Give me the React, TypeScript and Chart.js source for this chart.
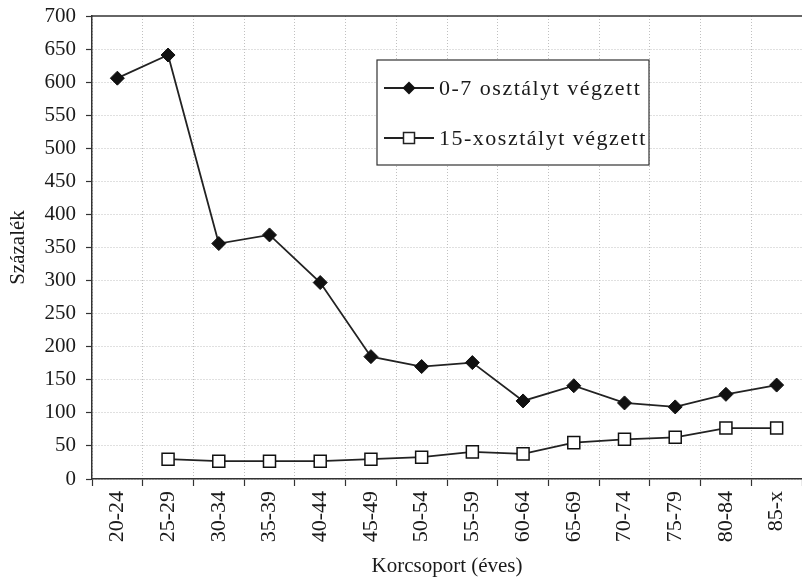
import React, { useEffect, useRef } from 'react';
import { Chart, registerables } from 'chart.js';

Chart.register(...registerables);

const categories = ['20-24', '25-29', '30-34', '35-39', '40-44', '45-49', '50-54', '55-59', '60-64', '65-69', '70-74', '75-79', '80-84', '85-x'];
const series07 = [606, 641, 356, 369, 297, 185, 170, 176, 118, 141, 115, 109, 128, 142];
const series15x = [null, 30, 27, 27, 27, 30, 33, 41, 38, 55, 60, 63, 77, 77];
const seriesLabels = ['0-7 osztályt végzett', '15-xosztályt végzett'];
const yMin = 0;
const yMax = 700;
const yStep = 50;
const xTitle = 'Korcsoport (éves)';
const yTitle = 'Százalék';

const FONT = '"Liberation Serif", "Times New Roman", serif';
const INK = '#1a1a1a';

const legendPlugin = {
  id: 'boxLegend',
  afterDraw(chart: any) {
    const ctx = chart.ctx;
    const area = chart.chartArea;
    ctx.save();
    // top border of the plot
    ctx.strokeStyle = '#333';
    ctx.lineWidth = 1.5;
    ctx.beginPath();
    ctx.moveTo(area.left, area.top);
    ctx.lineTo(area.right, area.top);
    ctx.stroke();

    const bx = 377, by = 60, bw = 272, bh = 105;
    ctx.fillStyle = '#fff';
    ctx.fillRect(bx, by, bw, bh);
    ctx.strokeStyle = '#333';
    ctx.lineWidth = 1.2;
    ctx.strokeRect(bx, by, bw, bh);

    const rows = [by + 28, by + 78];
    chart.data.datasets.forEach((ds: any, i: number) => {
      const cy = rows[i];
      ctx.strokeStyle = '#222';
      ctx.lineWidth = 1.8;
      ctx.beginPath();
      ctx.moveTo(bx + 7, cy);
      ctx.lineTo(bx + 57, cy);
      ctx.stroke();
      const mx = bx + 32;
      if (i === 0) {
        const r = 6.5;
        ctx.fillStyle = '#111';
        ctx.beginPath();
        ctx.moveTo(mx, cy - r);
        ctx.lineTo(mx + r, cy);
        ctx.lineTo(mx, cy + r);
        ctx.lineTo(mx - r, cy);
        ctx.closePath();
        ctx.fill();
      } else {
        const s = 11;
        ctx.fillStyle = '#fff';
        ctx.fillRect(mx - s / 2, cy - s / 2, s, s);
        ctx.lineWidth = 1.5;
        ctx.strokeRect(mx - s / 2, cy - s / 2, s, s);
      }
      ctx.fillStyle = INK;
      ctx.font = `22px ${FONT}`;
      (ctx as any).letterSpacing = '1.5px';
      ctx.textBaseline = 'middle';
      ctx.textAlign = 'left';
      ctx.fillText(ds.label, bx + 62, cy + 1);
      (ctx as any).letterSpacing = '0px';
    });
    ctx.restore();
  },
};

export default function App() {
  const ref = useRef<HTMLCanvasElement>(null);

  useEffect(() => {
    if (!ref.current) return;
    const chart = new Chart(ref.current, {
      type: 'line',
      data: {
        labels: categories,
        datasets: [
          {
            label: seriesLabels[0],
            data: series07,
            borderColor: '#222',
            borderWidth: 1.8,
            backgroundColor: '#111',
            pointStyle: 'rectRot',
            pointRadius: 7,
            pointBackgroundColor: '#111',
            pointBorderColor: '#111',
            pointBorderWidth: 1,
            tension: 0,
          },
          {
            label: seriesLabels[1],
            data: series15x,
            borderColor: '#222',
            borderWidth: 1.8,
            backgroundColor: '#fff',
            pointStyle: 'rect',
            pointRadius: 8.5,
            pointBackgroundColor: '#fff',
            pointBorderColor: '#111',
            pointBorderWidth: 1.5,
            tension: 0,
            spanGaps: false,
          },
        ],
      },
      options: {
        animation: false,
        responsive: false,
        maintainAspectRatio: false,
        layout: { autoPadding: false, padding: { top: 16, right: 0, left: 0, bottom: 0 } },
        plugins: {
          legend: { display: false },
          tooltip: { enabled: false },
        },
        scales: {
          x: {
            offset: true,
            grid: {
              offset: true,
              color: '#c0c0c0',
              lineWidth: 1,
              tickColor: '#333',
              tickLength: 7,
              tickWidth: 1.2,
            },
            border: { display: true, color: '#333', width: 1.5, dash: [1, 2] },
            ticks: {
              color: INK,
              font: { family: FONT, size: 22 },
              minRotation: 90,
              maxRotation: 90,
              padding: 5,
              autoSkip: false,
            },
            title: {
              display: true,
              text: xTitle,
              color: INK,
              font: { family: FONT, size: 21 },
              padding: { top: 0, bottom: 4 },
            },
            afterFit(scale: any) {
              scale.height = 104;
              scale.paddingRight = 0;
              scale.paddingLeft = 0;
            },
          },
          y: {
            min: yMin,
            max: yMax,
            grid: {
              color: (c: any) => (c.tick && c.tick.value === yMax ? 'rgba(0,0,0,0)' : '#c0c0c0'),
              lineWidth: 1,
              tickColor: '#333',
              tickLength: 6,
              tickWidth: 1.2,
            },
            border: { display: true, color: '#333', width: 1.5, dash: [1, 2] },
            ticks: {
              stepSize: yStep,
              color: INK,
              font: { family: FONT, size: 21 },
              padding: 10,
            },
            title: {
              display: true,
              text: yTitle,
              color: INK,
              font: { family: FONT, size: 21 },
              padding: { top: 6, bottom: 0 },
            },
            afterFit(scale: any) {
              scale.width = 92;
              scale.paddingTop = 0;
              scale.paddingBottom = 0;
            },
          },
        },
      },
      plugins: [legendPlugin],
    } as any);
    return () => chart.destroy();
  }, []);

  return (
    <div style={{ position: 'fixed', left: 0, top: 0, width: 802, height: 583, background: '#fff' }}>
      <canvas ref={ref} width={802} height={583} style={{ width: 802, height: 583, display: 'block' }} />
    </div>
  );
}
